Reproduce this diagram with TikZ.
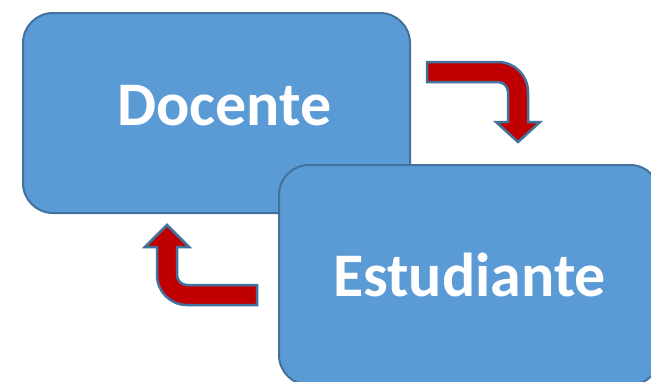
\documentclass[tikz,border=0pt]{standalone}
\usepackage{fontspec}
\setmainfont{Carlito}
\usetikzlibrary{positioning}

\definecolor{boxblue}{HTML}{5B9BD5}
\definecolor{boxline}{HTML}{41719C}
\definecolor{arrowred}{HTML}{C00000}

\begin{document}
\begin{tikzpicture}[x=1pt,y=-1pt,font=\fontsize{62}{70}\selectfont\bfseries]

    % Define node styles
    \tikzstyle{card} = [draw=boxline, fill=boxblue, line width=2pt, rounded corners=30pt, text=white, text centered]
    \tikzstyle{turn} = [draw=boxline, fill=arrowred, line width=2.5pt, line join=miter]

    \useasboundingbox (0,0) rectangle (651,381);
    \clip (0,0) rectangle (651,381);

    % Draw nodes
    \node [card, minimum width=387pt, minimum height=200pt, text depth=16pt] (docente) at (216.5,113) {\kern16pt Docente};
    \node [card, minimum width=381pt, minimum height=220pt] (estudiante) at (469.5,275) {Estudiante};

    % Draw arrows
    \draw [turn] (427,62) -- (498,62) arc[start angle=270, end angle=360, radius=30]
        -- (528,122) -- (540,122) -- (518,142) -- (496,122) -- (508,122) -- (508,92)
        arc[start angle=360, end angle=270, radius=10] -- (427,82) -- cycle;
    \draw [turn] (257,285) -- (187,285) arc[start angle=90, end angle=180, radius=10]
        -- (177,247) -- (189,247) -- (167,225) -- (145,247) -- (157,247) -- (157,275)
        arc[start angle=180, end angle=90, radius=30] -- (257,305) -- cycle;

\end{tikzpicture}
\end{document}
